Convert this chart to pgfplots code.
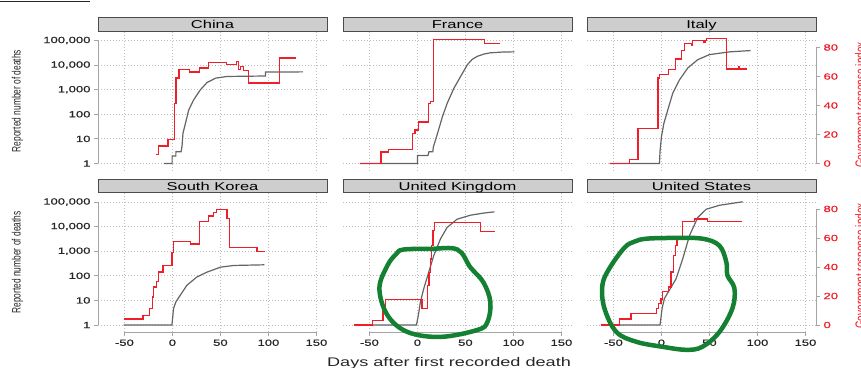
\documentclass[border=0pt]{standalone}
\usepackage{pgfplots}
\pgfplotsset{compat=1.18}
\usepackage{fontspec}
\setmainfont{Liberation Sans}[FakeStretch=1.45]
\newfontfamily\plainfont{Liberation Sans}
\newfontfamily\tickfont{Liberation Sans}[FakeStretch=1.45, FakeBold=0.7]
\definecolor{dgray}{RGB}{100,100,100}
\definecolor{rred}{RGB}{240,30,40}
\definecolor{axgray}{RGB}{165,165,165}
\definecolor{gridgray}{RGB}{190,190,190}
\definecolor{stripfill}{RGB}{206,206,206}
\definecolor{stripline}{RGB}{75,75,75}
\definecolor{circgreen}{RGB}{20,128,50}

\pgfplotsset{
 common/.style={scale only axis, width=229pt, height=139pt, xmin=-77.5, xmax=161,
   axis line style={draw=none}, tick align=outside, major tick length=4pt,
   tick style={axgray, line width=0.8pt}, clip=false,
   ticklabel style={font=\tickfont\fontsize{9}{10}\selectfont, text=black!85},
   xminorticks=false, yminorticks=false},
 gridded/.style={xmajorgrids, ymajorgrids,
   major grid style={gridgray, dash pattern=on 0.8pt off 2.2pt, line width=0.8pt}},
 gline/.style={dgray, line width=1.2pt, no marks},
 rline/.style={rred, line width=1.3pt, no marks, const plot},
}
\newcommand{\xline}{\draw[axgray, line width=0.8pt] (rel axis cs:0.1153,0) -- (rel axis cs:0.9539,0);}
\newcommand{\yline}{\draw[axgray, line width=0.8pt] (rel axis cs:0,0.0504) -- (rel axis cs:0,0.9353);}
\newcommand{\ryline}{\draw[axgray, line width=0.8pt] (rel axis cs:1,0.0504) -- (rel axis cs:1,0.8852);}
\newcommand{\strip}[3]{\node[anchor=south west, inner sep=0pt, draw=stripline, fill=stripfill, line width=0.9pt, minimum width=228.5pt, minimum height=13.6pt] at (#1pt,#2pt) {};
  \node[inner sep=0pt, text height=8.2pt, text depth=0pt, font=\fontsize{11.4}{12}\selectfont] at (#1pt+114.5pt,#2pt+6.8pt) {#3};}

\begin{document}
\begin{tikzpicture}
\useasboundingbox (0pt,0pt) rectangle (861pt,-367pt);
\draw[black!85, line width=1.3pt] (0pt,-1.3pt) -- (90pt,-1.3pt);

% ---------- China ----------
\begin{axis}[common, gridded, ymode=log, ymin=0.519, ymax=232000, at={(98pt,-170.5pt)},
  ytick={1,10,100,1000,10000,100000}, yticklabels={1,10,100,{1,000},{10,000},{100,000}},
  xtick={-50,0,50,100,150}, xticklabels={}, xtick style={draw=none}, xtick pos=left, ytick pos=left]
\addplot[gline] coordinates {(-9,1) (-0.3,1) (-0.3,2) (3.6,2) (3.6,3) (9,3) (10,5) (11,17) (13.5,42) (17,150) (22,380) (29,980) (36,1950) (45,2950) (57,3450) (97,3600) (97,5200) (136,5300)};
\yline
\end{axis}
\begin{axis}[common, ymin=-4.83, ymax=91, xtick=\empty, ytick=\empty, at={(98pt,-170.5pt)}]
\addplot[rline] coordinates {(-17,6.3) (-14.4,12) (-4.7,16.5) (1.9,41.5) (3.6,58.9) (7,64.7) (18,63.1) (28,65.9) (37.5,69.8) (56.6,68.2) (67,70.5) (69,64.7) (71,67) (74,64.2) (79,55.4) (111.5,72.8) (129,72.8)};
\end{axis}
\strip{98}{-31.5}{China}

% ---------- France ----------
\begin{axis}[common, gridded, ymode=log, ymin=0.519, ymax=232000, at={(343pt,-170.5pt)},
  ytick={1,10,100,1000,10000,100000}, yticklabels={}, ytick style={draw=none},
  xtick={-50,0,50,100,150}, xticklabels={}, xtick style={draw=none}]
\addplot[gline] coordinates {(-60,1) (0,1) (0,2.1) (11,2.1) (12,3) (16,3) (16.6,4.7) (20.8,16) (26,79) (31,280) (38,1150) (45,3450) (52,10400) (57,17000) (62.5,22800) (70,28500) (76,31600) (88,33800) (101,34600)};
\end{axis}
\begin{axis}[common, ymin=-4.83, ymax=91, xtick=\empty, ytick=\empty, at={(343pt,-170.5pt)}]
\addplot[rline] coordinates {(-60,0) (-38,7.9) (-30.4,9.7) (-5,20.6) (-2.6,23) (1.2,28.7) (11.6,41.5) (13.4,42.7) (16.8,85.6) (70.2,82.6) (86,82.6)};
\end{axis}
\strip{343}{-31.5}{France}

% ---------- Italy ----------
\begin{axis}[common, gridded, ymode=log, ymin=0.519, ymax=232000, at={(587pt,-170.5pt)},
  ytick={1,10,100,1000,10000,100000}, yticklabels={}, ytick style={draw=none},
  xtick={-50,0,50,100,150}, xticklabels={}, xtick style={draw=none}]
\addplot[gline] coordinates {(-54,1) (-2,1) (-1.5,3) (0,12) (2.5,42) (6.6,148) (11.8,720) (18.8,2500) (27.4,7600) (37.8,16600) (50,26700) (71,34500) (93,39000)};
\end{axis}
\begin{axis}[common, ymin=-4.83, ymax=91, xtick=\empty, at={(587pt,-170.5pt)},
  ytick={0,20,40,60,80}, yticklabels={0,20,40,60,80}, ytick pos=right, yticklabel style={text=rred}]
\addplot[rline] coordinates {(-54,0) (-33,2.8) (-24.3,24.1) (-3.5,58.9) (-1.7,61.2) (7.6,64.7) (14.6,72.1) (20.8,78.1) (24.3,82.8) (31.3,81.6) (32.5,84.6) (44.4,83.2) (45.5,84.6) (46.8,86) (67.7,65.2) (80,67) (81.5,65.2) (89.6,65.2)};
\ryline
\end{axis}
\strip{587}{-31.5}{Italy}

% ---------- South Korea ----------
\begin{axis}[common, gridded, ymode=log, ymin=0.519, ymax=232000, at={(98pt,-332pt)},
  ytick={1,10,100,1000,10000,100000}, yticklabels={1,10,100,{1,000},{10,000},{100,000}},
  xtick={-50,0,50,100,150}, xticklabels={-50,0,50,100,150}, xtick pos=left, ytick pos=left]
\addplot[gline] coordinates {(-50.7,1) (-0.5,1) (1.2,4.7) (3.6,8.7) (8.1,16) (15,41) (25.4,89) (36,141) (50,224) (63.9,263) (95.8,280)};
\yline
\xline
\end{axis}
\begin{axis}[common, ymin=-4.83, ymax=91, xtick=\empty, ytick=\empty, at={(98pt,-332pt)}]
\addplot[rline] coordinates {(-50.7,4.1) (-30.6,6.4) (-24,11.4) (-21,19.4) (-19.4,26.2) (-16.7,30.1) (-14.2,36.5) (-9.7,41) (-0.5,50.1) (1,57.7) (18.6,55.8) (28.3,71.3) (37.7,75.2) (42.9,77.5) (45.7,79.8) (56.8,73.4) (59.2,53.5) (88,50.6) (96,50.6)};
\end{axis}
\strip{98}{-193}{South Korea}

% ---------- United Kingdom ----------
\begin{axis}[common, gridded, ymode=log, ymin=0.519, ymax=232000, at={(343pt,-332pt)},
  ytick={1,10,100,1000,10000,100000}, yticklabels={}, ytick style={draw=none},
  xtick={-50,0,50,100,150}, xticklabels={-50,0,50,100,150}, xtick pos=left]
\addplot[gline] coordinates {(-66,1) (-1,1) (1,2.5) (3.1,8.7) (6.6,30) (11.8,141) (17,665) (24,3150) (30.9,9200) (41.3,20000) (55.2,29000) (68,35000) (80.2,39900)};
\xline
\end{axis}
\begin{axis}[common, ymin=-4.83, ymax=91, xtick=\empty, ytick=\empty, at={(343pt,-332pt)}]
\addplot[rline] coordinates {(-66.3,0) (-46.5,3) (-35.8,9.6) (-33.3,17.8) (4.9,11.4) (10.8,27.4) (12,36) (13.5,45.6) (15,55) (16.3,65) (17.7,70.6) (65.6,64.3) (81.25,64.3)};
\draw[circgreen, line width=4.5pt] plot[smooth cycle, tension=0.6] coordinates {(-14.6,52) (14,52.5) (41.7,52) (55.2,39.7) (68.75,29.4) (76,15.7) (72.9,2) (62.5,-3.4) (24,-8.2) (-10.4,-4.8) (-31.25,6.8) (-39.6,25.3) (-31.25,41) (-22,49)};
\end{axis}
\strip{343}{-193}{United Kingdom}

% ---------- United States ----------
\begin{axis}[common, gridded, ymode=log, ymin=0.519, ymax=232000, at={(587pt,-332pt)},
  ytick={1,10,100,1000,10000,100000}, yticklabels={}, ytick style={draw=none},
  xtick={-50,0,50,100,150}, xticklabels={-50,0,50,100,150}, xtick pos=left]
\addplot[gline] coordinates {(-63,1) (-1.4,1) (0.7,4.7) (3.1,12) (8.3,26) (15.3,76) (22.2,490) (29.2,4260) (37.8,23300) (46.5,50500) (60.4,73600) (84.7,102000)};
\xline
\end{axis}
\begin{axis}[common, ymin=-4.83, ymax=91, xtick=\empty, at={(587pt,-332pt)},
  ytick={0,20,40,60,80}, yticklabels={0,20,40,60,80}, ytick pos=right, yticklabel style={text=rred}]
\addplot[rline] coordinates {(-62.9,0) (-43.75,4.1) (-31.6,8.0) (-4.9,11.4) (-2.8,14.8) (-0.35,18) (1.4,23.2) (7.6,26.2) (10.1,36.5) (12.5,47.9) (14.6,54.7) (16.3,61.1) (22.2,71.3) (34.4,73) (48.3,71.3) (84,71.3)};
\ryline
\draw[circgreen, line width=4.5pt] plot[smooth cycle, tension=0.6] coordinates {(-15.6,59.5) (13,60) (42.7,59.5) (60.4,54.7) (67.7,43.1) (68.75,34.2) (76,25.3) (74,11.6) (60.4,-4.8) (42.7,-15) (26,-17.1) (1,-15) (-26,-11.6) (-46.9,-4.8) (-59.4,11.6) (-61.5,27.4) (-54.2,39) (-38.5,53.3) (-28,57.5)};
\end{axis}
\strip{587}{-193}{United States}

% ---------- axis titles ----------
\node[rotate=90, anchor=north, inner sep=0pt, text=black!85] at (11.5pt,-101pt) {\scalebox{1}[1.45]{\plainfont\fontsize{8.4}{9}\selectfont Reported number of deaths}};
\node[rotate=90, anchor=north, inner sep=0pt, text=black!85] at (11.5pt,-262.5pt) {\scalebox{1}[1.45]{\plainfont\fontsize{8.4}{9}\selectfont Reported number of deaths}};
\node[rotate=90, anchor=north, inner sep=0pt, text=rred] at (855pt,-105pt) {\scalebox{1}[1.45]{\plainfont\fontsize{10}{11}\selectfont Government response index}};
\node[rotate=90, anchor=north, inner sep=0pt, text=rred] at (855pt,-266pt) {\scalebox{1}[1.45]{\plainfont\fontsize{10}{11}\selectfont Government response index}};
\node[anchor=base, inner sep=0pt, text=black!85, font=\fontsize{12.5}{13}\selectfont] at (449pt,-366.5pt) {Days after first recorded death};
\end{tikzpicture}
\end{document}
